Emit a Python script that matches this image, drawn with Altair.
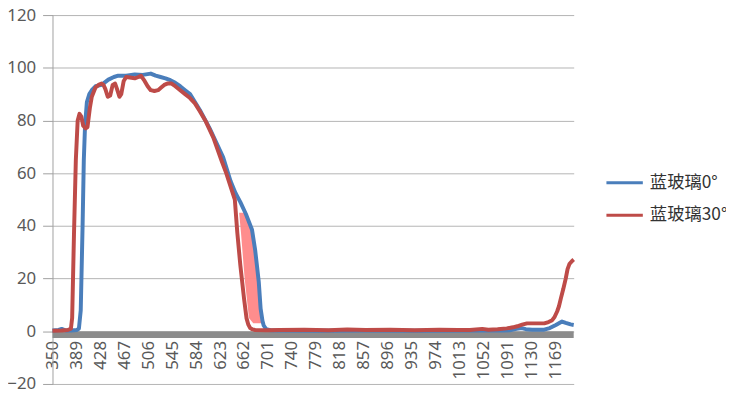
import altair as alt
import pandas as pd

# ---- data ----
blue_label = "蓝玻璃0°"
red_label = "蓝玻璃30°"

blue_nm = [350, 360, 365, 372, 380, 390, 393, 396, 399, 401, 403, 406, 410, 414, 420, 430, 441, 450,
           457, 470, 484, 497, 510, 518, 526, 534, 542, 550, 558, 566, 574, 582, 590, 598, 606, 617,
           628, 640, 648, 656, 665, 675, 680, 683, 686, 689, 692, 694, 698, 705, 720, 780, 850, 950,
           1045, 1065, 1085, 1095, 1106, 1114, 1121, 1131, 1151, 1160, 1170, 1180, 1186, 1194, 1199]
blue_val = [0.3, 0.5, 0.9, 0.3, 0.3, 0.5, 1, 8, 40, 65, 78, 87, 90, 91.5, 93, 93.5, 95.5, 96.5,
            97, 97, 97.5, 97.3, 97.8, 97, 96.5, 96, 95.3, 94.3, 93, 91.5, 90, 87, 84, 80.5, 77, 71.5,
            66, 57, 52.5, 49, 44.5, 38.5, 31, 25, 18.7, 8.6, 4, 2.2, 0.8, 0.4, 0.3, 0.2, 0.3, 0.2,
            0.3, 0.4, 0.3, 0.4, 0.9, 1.2, 0.8, 0.6, 0.6, 1.2, 2.4, 3.7, 3.2, 2.6, 2.4]

red_nm = [350, 365, 375, 380, 382, 385, 388, 391, 394, 397, 400, 404, 407, 411, 414, 420, 425, 430,
          433, 436, 440, 444, 448, 452, 455, 459, 462, 466, 470, 476, 484, 490, 494, 500, 505, 510,
          516, 522, 527, 532, 537, 544, 550, 558, 566, 574, 582, 590, 600, 612, 625, 633, 640, 647,
          651, 656, 662, 666, 669, 672, 676, 680, 700, 720, 760, 800, 830, 860, 900, 940, 980, 1010,
          1030, 1050, 1060, 1075, 1090, 1100, 1107, 1115, 1123, 1140, 1151, 1158, 1164, 1168, 1172,
          1175, 1178, 1182, 1186, 1189, 1192, 1196, 1199]
red_val = [0.2, 0.3, 0.5, 1, 5, 37, 65, 80, 82.5, 81.5, 78, 77, 77.5, 85, 89, 92.5, 93.5, 94,
           93.5, 92, 89, 89.5, 93.5, 94, 92, 89, 90, 95, 96.5, 96.3, 96, 96.5, 97, 95, 93, 91.5,
           91.2, 91.5, 92.5, 93.5, 94, 94, 93, 91.5, 90, 88.5, 86.5, 83.5, 79.5, 73.5, 65, 60, 55, 50,
           37.5, 25, 12.4, 5, 2.5, 1.2, 0.7, 0.5, 0.4, 0.5, 0.6, 0.4, 0.7, 0.5, 0.6, 0.4, 0.6, 0.5,
           0.5, 0.9, 0.6, 0.8, 1.1, 1.5, 1.9, 2.5, 3.0, 3.0, 3.0, 3.5, 4.2, 5.5, 7.5,
           9.5, 12.4, 16, 20, 23.6, 25.5, 26.6, 27.2]

# highlighted band between the two falling edges
pink_val = [45, 37.5, 20, 5, 3]
pink_left = [654, 657, 663, 670, 677]
pink_right = [662, 676, 684, 689, 690]

x_ticks = [350 + 39 * k for k in range(22)]
y_ticks = [-20, 0, 20, 40, 60, 80, 100, 120]

W, H = 527, 373
x_scale = alt.Scale(domain=[350, 1199], nice=False, zero=False)
y_scale = alt.Scale(domain=[-20, 120], nice=False)
color_scale = alt.Scale(domain=[blue_label, red_label], range=["#4A7EBB", "#BE4B48"])

blue_df = pd.DataFrame({"nm": blue_nm, "val": blue_val, "s": blue_label})
red_df = pd.DataFrame({"nm": red_nm, "val": red_val, "s": red_label})
pink_df = pd.DataFrame({"val": pink_val, "l": pink_left, "r": pink_right})

x_axis = alt.Axis(values=x_ticks, orient="bottom", offset=-46, labelAngle=270, labelAlign="right",
                  labelBaseline="middle", labelPadding=2, ticks=False, domain=False, grid=False,
                  labelFlush=False, labelOverlap=False, labelFontSize=17, labelFont="Noto Sans",
                  labelColor="#595959", title=None, format="d")
y_axis = alt.Axis(values=y_ticks, grid=True, gridColor="#b4b4b4", gridWidth=1, domain=True,
                  domainColor="#a0a0a0", tickSize=10, tickColor="#a0a0a0", labelPadding=7,
                  labelFontSize=17, labelFont="Noto Sans", labelColor="#595959", title=None)

band = alt.Chart(pd.DataFrame({"a": [0]})).mark_rect(color="#8c8c8c").encode(
    x=alt.value(0), x2=alt.value(W),
    y=alt.datum(0, scale=y_scale, axis=y_axis), y2=alt.datum(-2.6),
)

pink = alt.Chart(pink_df).mark_area(orient="horizontal", color="#ff8787", opacity=0.95).encode(
    y=alt.Y("val:Q", scale=y_scale, axis=y_axis),
    x=alt.X("l:Q", scale=x_scale, axis=x_axis),
    x2="r:Q",
)

legend = alt.Legend(
    title=None, orient="none", legendX=561, legendY=152, symbolType="M-1.15,0H1.15",
    symbolSize=1024, symbolStrokeWidth=3, labelFontSize=17.5, labelFont="Noto Sans CJK SC",
    labelColor="#333333", labelOffset=8, rowPadding=7, padding=0)

blue_line = alt.Chart(blue_df).mark_line(strokeWidth=4, strokeJoin="round").encode(
    x=alt.X("nm:Q", scale=x_scale, axis=x_axis),
    y=alt.Y("val:Q", scale=y_scale, axis=y_axis),
    color=alt.Color("s:N", scale=color_scale, legend=legend),
)

red_line = alt.Chart(red_df).mark_line(strokeWidth=4, strokeJoin="round").encode(
    x=alt.X("nm:Q", scale=x_scale, axis=x_axis),
    y=alt.Y("val:Q", scale=y_scale, axis=y_axis),
    color=alt.Color("s:N", scale=color_scale, legend=legend),
)

chart = alt.layer(band, pink, blue_line, red_line).properties(
    width=W, height=H,
    autosize=alt.AutoSizeParams(type="none"),
    padding={"left": 45, "top": 5, "right": 154, "bottom": 10},
    background="white",
).configure_view(stroke=None).configure_axis(labelOverlap=False)

chart.save("out.html", embed_options={"renderer": "svg", "actions": False})
